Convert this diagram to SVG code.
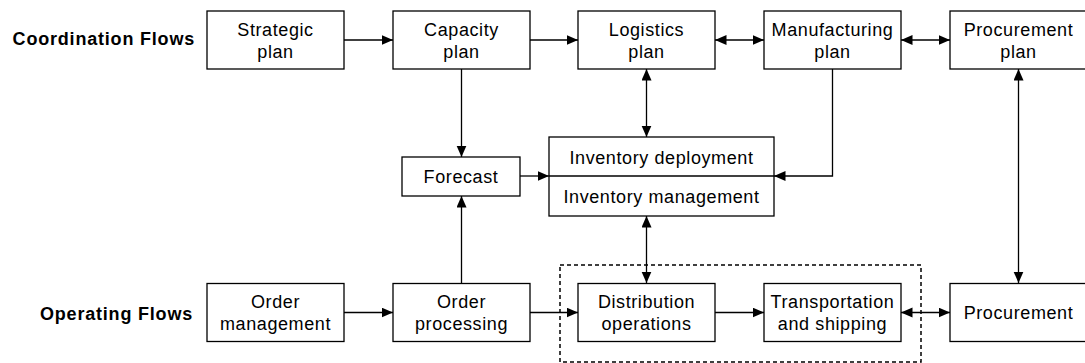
<svg xmlns="http://www.w3.org/2000/svg" width="1085" height="363" viewBox="0 0 1085 363">
  <style>
    .box { fill: #ffffff; stroke: #000000; stroke-width: 1.3; }
    .lbl { font-family: "Liberation Sans", Arial, sans-serif; font-size: 18px; letter-spacing: 0.6px; fill: #000000; text-anchor: middle; }
    .flow { font-family: "Liberation Sans", Arial, sans-serif; font-size: 18px; font-weight: bold; letter-spacing: 0.8px; fill: #000000; text-anchor: end; }
    .edge { fill: none; stroke: #000000; stroke-width: 1.3; }
    .one { marker-end: url(#arrow); }
    .two { marker-start: url(#arrow); marker-end: url(#arrow); }
    .group { fill: none; stroke: #000000; stroke-width: 1.5; stroke-dasharray: 4 3; }
  </style>
  <defs>
    <marker id="arrow" markerUnits="userSpaceOnUse" markerWidth="12" markerHeight="11" refX="11.5" refY="5" orient="auto-start-reverse">
      <path d="M0,0 L11.5,5 L0,10 z" fill="#000000"/>
    </marker>
  </defs>

  <rect width="1085" height="363" fill="#ffffff"/>

  <!-- row titles -->
  <text class="flow" x="195" y="45">Coordination Flows</text>
  <text class="flow" x="193" y="320">Operating Flows</text>

  <!-- grouped operations -->
  <rect id="operations-group" class="group" x="560" y="265" width="361" height="97"/>

  <!-- connectors -->
  <g id="connectors">
    <line class="edge one" x1="344" y1="40" x2="393" y2="40"/>
    <line class="edge one" x1="530" y1="40" x2="578" y2="40"/>
    <line class="edge two" x1="715" y1="40" x2="764" y2="40"/>
    <line class="edge two" x1="901" y1="40" x2="950" y2="40"/>
    <line class="edge one" x1="461.5" y1="69" x2="461.5" y2="157"/>
    <line class="edge two" x1="646.5" y1="69" x2="646.5" y2="137"/>
    <polyline class="edge one" points="832.5,69 832.5,176 774,176"/>
    <line class="edge two" x1="1018.5" y1="69" x2="1018.5" y2="283"/>
    <line class="edge one" x1="520" y1="176" x2="549" y2="176"/>
    <line class="edge one" x1="461.5" y1="283" x2="461.5" y2="196"/>
    <line class="edge two" x1="646.5" y1="216" x2="646.5" y2="283"/>
    <line class="edge one" x1="344" y1="312.5" x2="393" y2="312.5"/>
    <line class="edge one" x1="530" y1="312.5" x2="578" y2="312.5"/>
    <line class="edge one" x1="715" y1="312.5" x2="764" y2="312.5"/>
    <line class="edge two" x1="901" y1="312.5" x2="950" y2="312.5"/>
  </g>

  <!-- coordination row -->
  <g id="strategic-plan">
    <rect class="box" x="207" y="11" width="137" height="58"/>
    <text class="lbl" x="275.5" y="35.5">Strategic</text>
    <text class="lbl" x="275.5" y="57.5">plan</text>
  </g>
  <g id="capacity-plan">
    <rect class="box" x="393" y="11" width="137" height="58"/>
    <text class="lbl" x="461.5" y="35.5">Capacity</text>
    <text class="lbl" x="461.5" y="57.5">plan</text>
  </g>
  <g id="logistics-plan">
    <rect class="box" x="578" y="11" width="137" height="58"/>
    <text class="lbl" x="646.5" y="35.5">Logistics</text>
    <text class="lbl" x="646.5" y="57.5">plan</text>
  </g>
  <g id="manufacturing-plan">
    <rect class="box" x="764" y="11" width="137" height="58"/>
    <text class="lbl" x="832.5" y="35.5">Manufacturing</text>
    <text class="lbl" x="832.5" y="57.5">plan</text>
  </g>
  <g id="procurement-plan">
    <rect class="box" x="950" y="11" width="137" height="58"/>
    <text class="lbl" x="1018.5" y="35.5">Procurement</text>
    <text class="lbl" x="1018.5" y="57.5">plan</text>
  </g>

  <!-- middle row -->
  <g id="forecast">
    <rect class="box" x="402" y="157" width="118" height="39"/>
    <text class="lbl" x="461" y="183">Forecast</text>
  </g>
  <g id="inventory">
    <rect class="box" x="549" y="137" width="225" height="79"/>
    <line class="edge" x1="549" y1="176" x2="774" y2="176"/>
    <text class="lbl" x="661.5" y="164">Inventory deployment</text>
    <text class="lbl" x="661.5" y="203">Inventory management</text>
  </g>

  <!-- operating row -->
  <g id="order-management">
    <rect class="box" x="207" y="283.5" width="137" height="58"/>
    <text class="lbl" x="275.5" y="308">Order</text>
    <text class="lbl" x="275.5" y="330">management</text>
  </g>
  <g id="order-processing">
    <rect class="box" x="393" y="283.5" width="137" height="58"/>
    <text class="lbl" x="461.5" y="308">Order</text>
    <text class="lbl" x="461.5" y="330">processing</text>
  </g>
  <g id="distribution-operations">
    <rect class="box" x="578" y="283.5" width="137" height="58"/>
    <text class="lbl" x="646.5" y="308">Distribution</text>
    <text class="lbl" x="646.5" y="330">operations</text>
  </g>
  <g id="transportation-shipping">
    <rect class="box" x="764" y="283.5" width="137" height="58"/>
    <text class="lbl" x="832.5" y="308">Transportation</text>
    <text class="lbl" x="832.5" y="330">and shipping</text>
  </g>
  <g id="procurement">
    <rect class="box" x="950" y="283.5" width="137" height="58"/>
    <text class="lbl" x="1018.5" y="319">Procurement</text>
  </g>
</svg>
